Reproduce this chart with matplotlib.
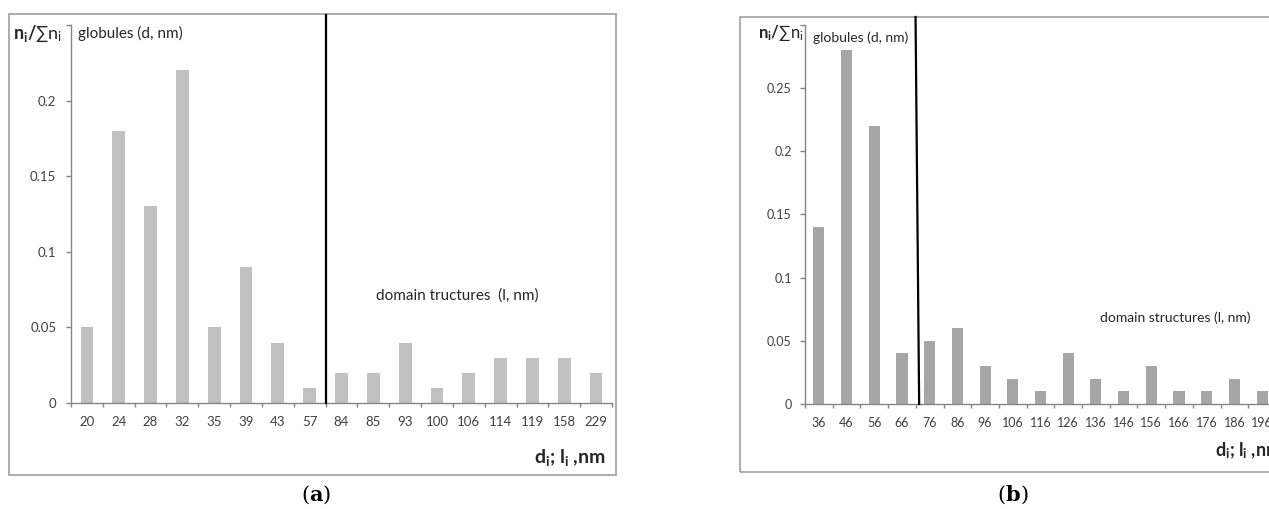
import numpy as np
import matplotlib
matplotlib.use("Agg")
import matplotlib.pyplot as plt
from matplotlib.patches import Rectangle
from matplotlib.lines import Line2D
import matplotlib.transforms as mtrans

plt.rcParams['font.family'] = ['Lato', 'DejaVu Sans']
plt.rcParams['mathtext.fontset'] = 'custom'
plt.rcParams['mathtext.rm'] = 'Lato'
plt.rcParams['mathtext.it'] = 'Lato'
plt.rcParams['mathtext.bf'] = 'Lato:bold'

# ---- data ----
cats_a = ['20', '24', '28', '32', '35', '39', '43', '57', '84', '85', '93',
          '100', '106', '114', '119', '158', '229']
vals_a = [0.05, 0.18, 0.13, 0.22, 0.05, 0.09, 0.04, 0.01, 0.02, 0.02, 0.04,
          0.01, 0.02, 0.03, 0.03, 0.03, 0.02]
cats_b = ['36', '46', '56', '66', '76', '86', '96', '106', '116', '126', '136',
          '146', '156', '166', '176', '186', '196']
vals_b = [0.14, 0.28, 0.22, 0.04, 0.05, 0.06, 0.03, 0.02, 0.01, 0.04, 0.02,
          0.01, 0.03, 0.01, 0.01, 0.02, 0.01]
yticks_a = [0, 0.05, 0.1, 0.15, 0.2]
yticks_b = [0, 0.05, 0.1, 0.15, 0.2, 0.25]

W, H = 1269, 509
fig = plt.figure(figsize=(W / 100, H / 100), dpi=100)


def fx(x):
    return x / W


def fy(y):
    return 1 - y / H


AXC = '#868686'
TXT = '#404040'
DARK = '#262626'


def make_axes(left, right, top, bottom, cats, vals, ymax, yticks, color,
              xsize, ysize, ypad):
    ax = fig.add_axes([fx(left), fy(bottom), (right - left) / W, (bottom - top) / H])
    n = len(cats)
    ax.bar(np.arange(n), vals, width=0.4, color=color, zorder=2)
    ax.set_xlim(-0.5, n - 0.5)
    ax.set_ylim(0, ymax)
    ax.set_xticks(np.arange(n))
    ax.set_xticklabels(cats)
    ax.set_xticks(np.arange(n + 1) - 0.5, minor=True)
    ax.tick_params(axis='x', which='major', length=0, pad=9.5, labelsize=xsize,
                   labelcolor=TXT)
    ax.tick_params(axis='x', which='minor', length=3, direction='out', color=AXC, width=1)
    yt = list(yticks) + [ymax]
    ax.set_yticks(yt)
    ax.set_yticklabels([('%g' % v) for v in yticks] + [''])
    ax.tick_params(axis='y', length=3.6, direction='out', color=AXC, width=1, pad=ypad,
                   labelsize=ysize, labelcolor=TXT)
    for s in ['top', 'right']:
        ax.spines[s].set_visible(False)
    for s in ['left', 'bottom']:
        ax.spines[s].set_color(AXC)
        ax.spines[s].set_linewidth(1)
    ax.patch.set_alpha(0)
    return ax


def panel_label(xc, y, letter):
    r = fig.canvas.get_renderer()
    parts = [('(', 'normal'), (letter, 'bold'), (')', 'normal')]
    txts = []
    widths = []
    for s, w in parts:
        t = fig.text(0, fy(y), s, fontsize=15, family='DejaVu Serif', weight=w,
                     ha='left', va='center', color='black')
        txts.append(t)
        widths.append(t.get_window_extent(renderer=r).width)
    total = sum(widths)
    x = xc - total / 2
    for t, w in zip(txts, widths):
        t.set_x(fx(x))
        x += w


# ---- panel (a) ----
ax_a = make_axes(71, 612, 25, 403, cats_a, vals_a, 0.25, yticks_a, '#c0c0c0',
                 9.5, 9.5, 7)
fig.add_artist(Rectangle((fx(9), fy(475)), (616 - 9) / W, (475 - 14) / H,
                         transform=fig.transFigure, fill=False,
                         edgecolor='#a6a6a6', linewidth=1.3))
tr_a = mtrans.blended_transform_factory(ax_a.transData, fig.transFigure)
fig.add_artist(Line2D([7.5, 7.5], [fy(403), fy(15)], transform=tr_a,
                      color='black', linewidth=1.6))
fig.text(fx(13), fy(34), r'$\mathbf{n_i/}$' + '∑' + r'n$_\mathrm{i}$', fontsize=13,
         ha='left', va='center', color=DARK)
fig.text(fx(78), fy(33), 'globules (d, nm)', fontsize=11, ha='left', va='center',
         color=DARK)
fig.text(fx(376), fy(296), 'domain tructures  (l, nm)', fontsize=11, ha='left',
         va='center', color=DARK)
fig.text(fx(606), fy(458), r'd$_\mathbf{i}$; l$_\mathbf{i}$ ,nm', fontsize=14,
         weight='bold', ha='right', va='center', color=DARK)
panel_label(316, 495, 'a')

# ---- panel (b) ----
ax_b = make_axes(805, 1276, 25, 404, cats_b, vals_b, 0.3, yticks_b, '#a6a6a6',
                 9, 9, 6)
fig.add_artist(Rectangle((fx(740), fy(472)), (1290 - 740) / W, (472 - 17) / H,
                         transform=fig.transFigure, fill=False,
                         edgecolor='#a6a6a6', linewidth=1.3))
tr_b = mtrans.blended_transform_factory(ax_b.transData, fig.transFigure)
fig.add_artist(Line2D([3.62, 3.49], [fy(404), fy(17)], transform=tr_b,
                      color='black', linewidth=1.6))
fig.text(fx(758), fy(33), r'$\mathbf{n_i/}$' + '∑' + r'n$_\mathrm{i}$', fontsize=12,
         ha='left', va='center', color=DARK)
fig.text(fx(813), fy(38), 'globules (d, nm)', fontsize=10, ha='left', va='center',
         color=DARK)
fig.text(fx(1100), fy(318), 'domain structures (l, nm)', fontsize=10, ha='left',
         va='center', color=DARK)
fig.text(fx(1215), fy(451), r'd$_\mathbf{i}$; l$_\mathbf{i}$ ,nm', fontsize=13,
         weight='bold', ha='left', va='center', color=DARK)
panel_label(1013, 495, 'b')

fig.savefig('out.png', dpi=100)
